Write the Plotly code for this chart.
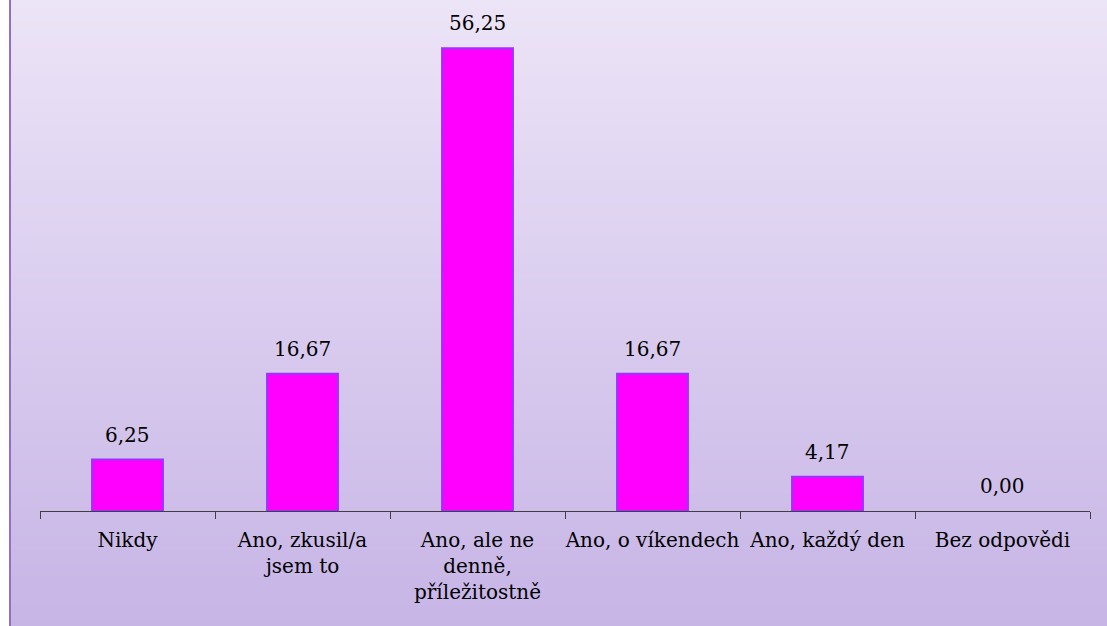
import plotly.graph_objects as go

categories = ["Nikdy", "Ano, zkusil/a<br>jsem to", "Ano, ale ne<br>denně,<br>příležitostně",
              "Ano, o víkendech", "Ano, každý den", "Bez odpovědi"]
values = [6.25, 16.67, 56.25, 16.67, 4.17, 0.00]

FONT = "DejaVu Serif"
FS = 20
W, H = 1107, 626
L, R, T, B = 40, 17, 0, 115
PW, PH = W - L - R, H - T - B

def px_to_paper_x(X):
    return (X - L) / PW

def px_to_paper_y(Y):
    return (H - B - Y) / PH

fig = go.Figure()
fig.add_trace(go.Bar(
    x=categories, y=values,
    marker=dict(color="#FF00FF",
                line=dict(color="#9933FF", width=[2 if v > 0 else 0 for v in values])),
    width=0.405,
))

shapes = []
n = 90
top = (236, 228, 247)
bot = (199, 181, 230)
for i in range(n):
    t = i / (n - 1)
    c = tuple(round(top[k] + (bot[k] - top[k]) * t) for k in range(3))
    y0 = H * i / n - (2 if i == 0 else 0)
    y1 = H * (i + 1) / n + 1
    shapes.append(dict(type="rect", xref="paper", yref="paper",
                       x0=px_to_paper_x(10), x1=px_to_paper_x(W + 2),
                       y0=px_to_paper_y(y1), y1=px_to_paper_y(y0),
                       fillcolor="rgb(%d,%d,%d)" % c, line=dict(width=0), layer="below"))
shapes.append(dict(type="rect", xref="paper", yref="paper",
                   x0=px_to_paper_x(9), x1=px_to_paper_x(11),
                   y0=px_to_paper_y(H + 2), y1=px_to_paper_y(-2),
                   fillcolor="#9270C6", line=dict(width=0), layer="below"))

annotations = []
for c, v in zip(categories, values):
    annotations.append(dict(x=c, y=v, xref="x", yref="y", text=f"{v:.2f}".replace(".", ","),
                            showarrow=False, yanchor="bottom", yshift=11,
                            font=dict(family=FONT, size=FS, color="#000000")))

fig.update_layout(
    width=W, height=H,
    margin=dict(l=L, r=R, t=T, b=B),
    paper_bgcolor="white",
    plot_bgcolor="rgba(0,0,0,0)",
    shapes=shapes,
    annotations=annotations,
    showlegend=False,
    font=dict(family=FONT, size=FS, color="#000000"),
    xaxis=dict(showline=True, linecolor="#404040", linewidth=1, ticks="outside",
               tickson="boundaries", ticklen=7, tickcolor="#404040", showgrid=False,
               tickfont=dict(family=FONT, size=FS, color="#000000"),
               tickangle=0, ticklabelstandoff=11),
    yaxis=dict(range=[0, 62.1], visible=False, showgrid=False),
)

fig.write_html("out.html", config={"displayModeBar": False},
               post_script="document.body.style.margin='0';")
